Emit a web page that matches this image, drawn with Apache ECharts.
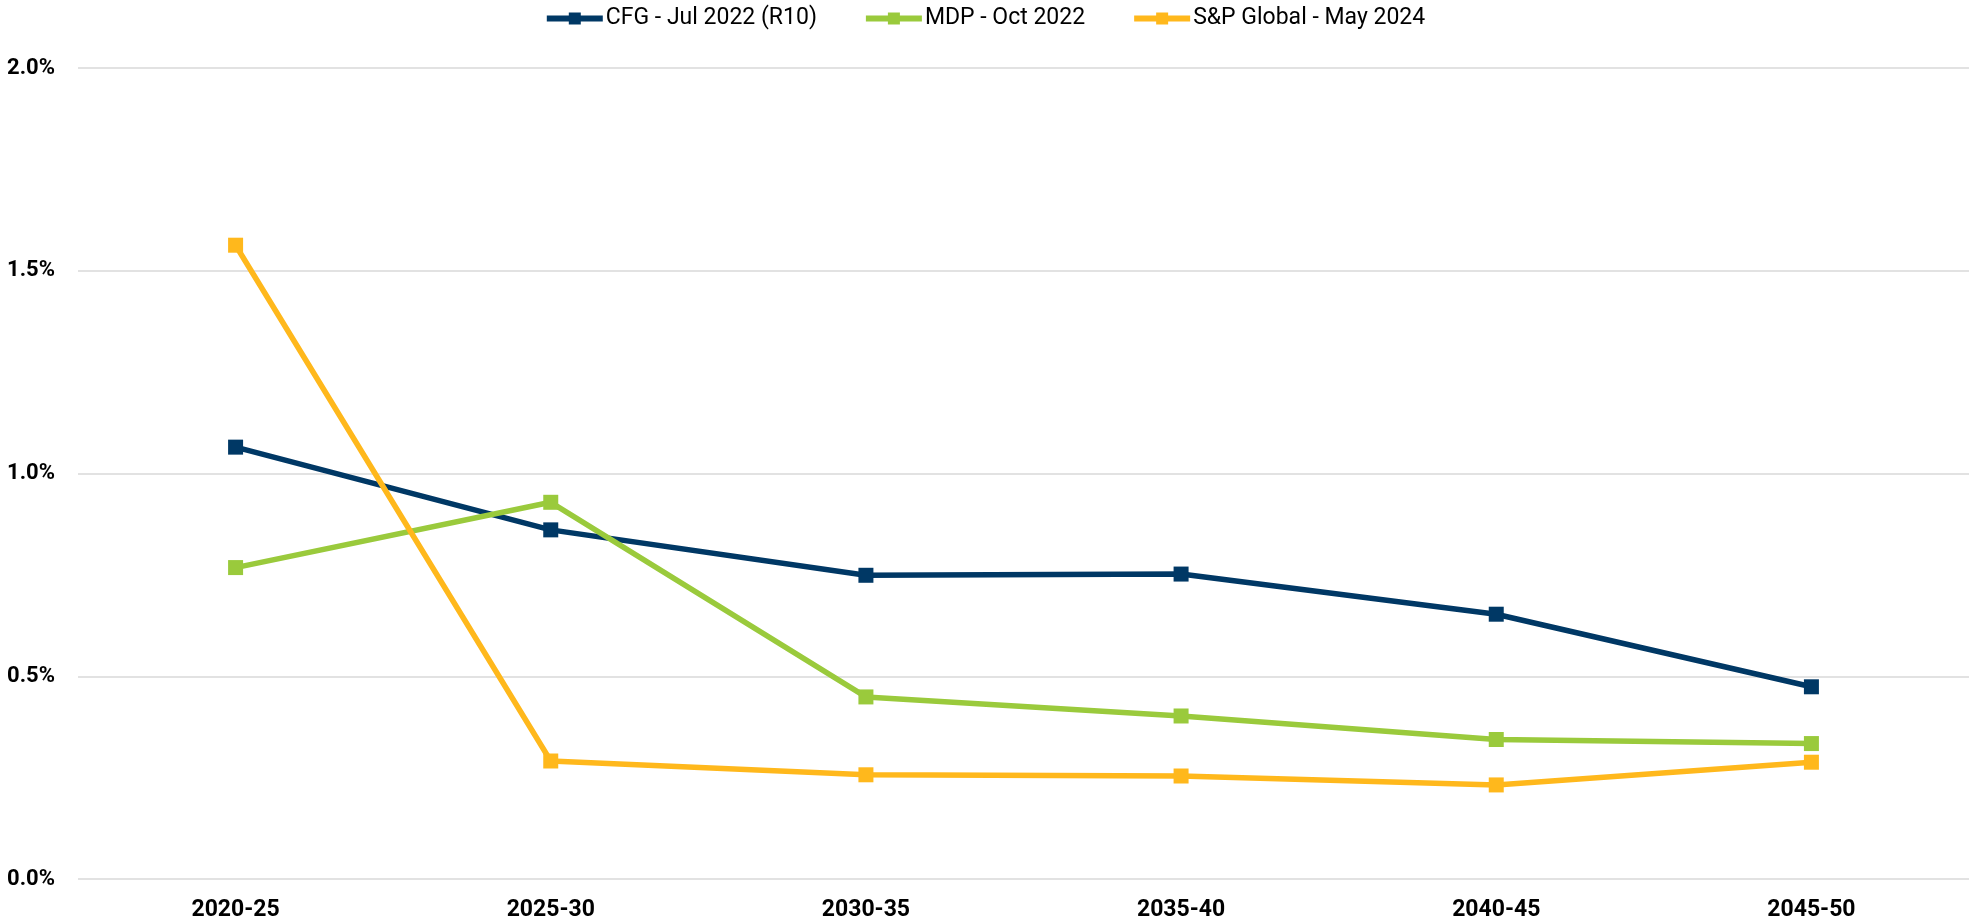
<!DOCTYPE html>
<html lang="en">
<head>
    <meta charset="UTF-8">
    <title>Growth rate forecasts</title>
    <style>
        html, body {
            margin: 0;
            padding: 0;
            width: 100%;
            height: 100%;
            overflow: hidden;
            background: #fff;
        }
        #chart {
            width: 1969px;
            height: 923px;
        }
    </style>
</head>
<body>
    <div id="chart"></div>

<script src="https://cdn.jsdelivr.net/npm/echarts@6/dist/echarts.min.js"></script>
<script>
    // categories and series values (percent)
    var periods = ['2020-25', '2025-30', '2030-35', '2035-40', '2040-45', '2045-50'];
    var cfg = [1.065, 0.861, 0.749, 0.752, 0.653, 0.474];
    var mdp = [0.768, 0.929, 0.449, 0.402, 0.344, 0.334];
    var spGlobal = [1.563, 0.291, 0.257, 0.254, 0.232, 0.288];
    var yTicks = [0, 0.5, 1.0, 1.5, 2.0];

    var names = ['CFG - Jul 2022 (R10)', 'MDP - Oct 2022', 'S&P Global - May 2024'];
    var colors = ['#003865', '#9aca3c', '#ffb81c'];
    var values = [cfg, mdp, spGlobal];

    var chart = echarts.init(document.getElementById('chart'));

    var series = values.map(function (data, i) {
        return {
            name: names[i],
            type: 'line',
            data: data,
            symbol: 'rect',
            symbolSize: 15,
            lineStyle: { width: 5.5, color: colors[i] },
            itemStyle: { color: colors[i] },
            z: 2 + i
        };
    });

    chart.setOption({
        animation: false,
        color: colors,
        legend: {
            top: 2,
            left: 'center',
            itemWidth: 56,
            itemHeight: 15,
            itemGap: 46,
            lineStyle: { width: 6 },
            textStyle: { fontFamily: 'Roboto', fontSize: 23, color: '#000', padding: [0, 0, 0, -2] },
            data: names
        },
        grid: { left: 78, right: 0, top: 68, bottom: 44 },
        xAxis: {
            type: 'category',
            data: periods,
            axisLine: { show: false },
            axisTick: { show: false },
            axisLabel: {
                margin: 20,
                fontFamily: 'Roboto',
                fontWeight: 'bold',
                fontSize: 23,
                color: '#000'
            }
        },
        yAxis: {
            type: 'value',
            min: yTicks[0],
            max: yTicks[yTicks.length - 1],
            interval: 0.5,
            axisLine: { show: false },
            axisTick: { show: false },
            splitLine: { lineStyle: { color: '#d9d9d9', width: 1.5 } },
            axisLabel: {
                margin: 23,
                fontFamily: 'Roboto',
                fontWeight: 'bold',
                fontSize: 22,
                color: '#000',
                formatter: function (v) { return v.toFixed(1) + '%'; }
            }
        },
        series: series
    });
</script>
</body>
</html>
